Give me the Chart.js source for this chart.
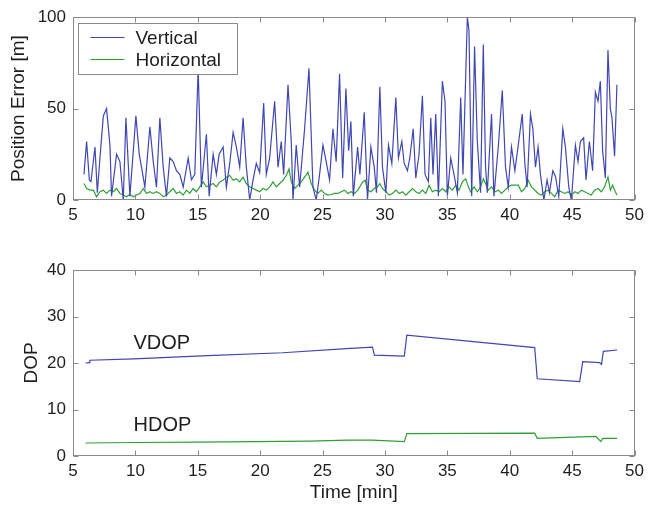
<!DOCTYPE html>
<html>
<head>
<meta charset="utf-8">
<script src="https://cdn.jsdelivr.net/npm/chart.js@4.4.1/dist/chart.umd.min.js"></script>
<style>
  body { margin: 0; background: #fff; }
  #errWrap { position: absolute; left: 0; top: 0; }
  #dopWrap { position: absolute; left: 0; top: 250px; }
</style>
</head>
<body>
<div id="errWrap"><canvas id="errChart" width="649" height="250"></canvas></div>
<div id="dopWrap"><canvas id="dopChart" width="649" height="256"></canvas></div>
<script>
// position error [m] against time [min]
const vertTime = [
  5.88, 6.09, 6.31, 6.44, 6.76, 6.95, 7.16, 7.43, 7.69, 7.96,
  8.09, 8.49, 8.76, 9.03, 9.24, 9.56, 10.04, 10.31, 10.49, 10.76,
  11.16, 11.43, 11.69, 11.96, 12.23, 12.49, 12.76, 13.03, 13.29, 13.56,
  13.83, 14.23, 14.49, 14.76, 15.03, 15.29, 15.69, 15.91, 16.23, 16.49,
  16.71, 17.03, 17.29, 17.56, 17.83, 18.09, 18.36, 18.63, 18.89, 19.16,
  19.43, 19.69, 19.96, 20.28, 20.49, 20.76, 21.16, 21.43, 21.69, 21.88,
  22.23, 22.49, 22.63, 22.89, 23.16, 23.56, 23.91, 24.23, 24.49, 24.76,
  25.03, 25.29, 25.56, 25.83, 26.09, 26.36, 26.61, 26.87, 27.09, 27.27,
  27.46, 27.81, 27.99, 28.34, 28.60, 28.87, 29.14, 29.32, 29.59, 29.80,
  30.07, 30.28, 30.55, 30.87, 31.08, 31.35, 31.54, 31.80, 31.99, 32.26,
  32.47, 32.73, 33.00, 33.21, 33.48, 33.67, 33.85, 34.07, 34.28, 34.60,
  34.81, 35.00, 35.27, 35.53, 35.80, 36.07, 36.25, 36.60, 36.73, 36.95,
  37.18, 37.40, 37.66, 37.88, 38.06, 38.20, 38.54, 38.73, 39.08, 39.40,
  39.66, 39.88, 40.14, 40.41, 40.68, 41.00, 41.21, 41.39, 41.66, 41.85,
  42.06, 42.27, 42.46, 42.73, 42.99, 43.18, 43.45, 43.66, 43.93, 44.25,
  44.46, 44.73, 44.94, 45.26, 45.47, 45.66, 45.92, 46.11, 46.38, 46.64,
  46.86, 47.07, 47.26, 47.44, 47.66, 47.87, 48.06, 48.19, 48.40, 48.59
];
const vertErr = [
  14, 32, 11, 10, 29, 4, 23, 46, 50, 30,
  2, 25, 21, 0, 45, 2, 46, 25, 18, 7,
  40, 21, 7, 45, 18, 2, 23, 21, 16, 14,
  7, 23, 11, 14, 72, 7, 36, 2, 25, 14,
  25, 29, 7, 20, 37, 29, 18, 45, 18, 0,
  11, 20, 15, 53, 14, 23, 54, 18, 32, 14,
  63, 32, 0, 30, 7, 39, 72, 7, 0, 14,
  30, 21, 11, 39, 21, 69, 12, 61, 27, 43,
  2, 29, 14, 48, 0, 29, 18, 4, 62, 18,
  4, 30, 20, 56, 23, 32, 20, 16, 23, 39,
  12, 25, 57, 14, 10, 45, 14, 47, 2, 65,
  54, 2, 23, 14, 4, 56, 14, 100, 93, 2,
  84, 32, 4, 85, 18, 4, 47, 2, 29, 60,
  18, 7, 29, 16, 30, 47, 20, 7, 47, 39,
  18, 29, 14, 0, 11, 4, 16, 13, 2, 39,
  29, 7, 0, 30, 21, 32, 34, 11, 32, 16,
  59, 54, 65, 27, 12, 82, 50, 45, 24, 63
];
const horizTime = [
  5.88, 6.09, 6.36, 6.63, 6.89, 7.16, 7.43, 7.69, 7.96, 8.23,
  8.49, 8.76, 9.03, 9.29, 9.56, 9.83, 10.09, 10.36, 10.63, 10.89,
  11.16, 11.43, 11.69, 11.96, 12.23, 12.49, 12.76, 13.03, 13.29, 13.56,
  13.83, 14.09, 14.36, 14.63, 14.89, 15.16, 15.43, 15.69, 15.96, 16.23,
  16.49, 16.76, 17.03, 17.29, 17.56, 17.83, 18.09, 18.36, 18.63, 18.89,
  19.16, 19.43, 19.69, 19.96, 20.23, 20.49, 20.76, 21.03, 21.29, 21.56,
  21.83, 22.09, 22.31, 22.49, 22.76, 23.03, 23.29, 23.56, 23.83, 24.09,
  24.36, 24.63, 24.89, 25.16, 25.43, 25.69, 25.96, 26.23, 26.49, 26.76,
  27.03, 27.29, 27.56, 27.83, 28.21, 28.42, 28.60, 28.87, 29.14, 29.40,
  29.59, 29.80, 30.07, 30.34, 30.60, 30.87, 31.14, 31.40, 31.67, 31.94,
  32.20, 32.47, 32.73, 33.00, 33.27, 33.53, 33.80, 34.07, 34.33, 34.60,
  34.87, 35.13, 35.40, 35.67, 35.93, 36.20, 36.47, 36.68, 36.87, 37.13,
  37.40, 37.66, 37.88, 38.06, 38.28, 38.54, 38.81, 39.08, 39.34, 39.61,
  39.88, 40.14, 40.41, 40.68, 40.94, 41.21, 41.47, 41.74, 42.01, 42.27,
  42.54, 42.81, 43.07, 43.34, 43.61, 43.87, 44.14, 44.41, 44.67, 44.94,
  45.21, 45.47, 45.74, 46.00, 46.27, 46.54, 46.80, 47.07, 47.34, 47.60,
  47.87, 48.06, 48.24, 48.46, 48.59
];
const horizErr = [
  9.0, 6.3, 5.4, 5.4, 1.8, 4.5, 5.4, 3.6, 5.4, 4.5,
  6.3, 3.6, 2.7, 1.8, 3.0, 1.8, 2.7, 3.6, 6.3, 3.6,
  4.5, 3.6, 4.5, 3.6, 1.8, 2.7, 4.5, 6.3, 3.6, 4.5,
  2.7, 5.4, 3.6, 6.3, 4.5, 7.2, 9.9, 7.2, 8.1, 9.0,
  7.2, 9.9, 10.8, 12.5, 13.4, 10.8, 11.6, 9.9, 12.5, 9.0,
  7.2, 6.3, 5.4, 4.5, 6.3, 5.4, 7.2, 9.9, 7.2, 9.0,
  10.8, 13.4, 17.0, 9.9, 6.3, 8.1, 9.9, 12.5, 15.2, 9.0,
  5.4, 3.6, 5.4, 3.6, 2.7, 3.0, 3.6, 3.6, 4.5, 5.4,
  3.6, 4.5, 3.6, 5.4, 9.9, 10.8, 5.4, 4.5, 6.3, 7.2,
  9.0, 6.3, 4.5, 2.7, 3.6, 5.4, 3.6, 4.5, 2.7, 4.5,
  6.3, 4.5, 3.6, 5.4, 3.6, 8.1, 4.5, 5.4, 4.5, 6.3,
  4.5, 7.2, 5.4, 8.1, 5.4, 9.9, 11.6, 7.2, 4.5, 7.2,
  4.5, 7.2, 11.6, 9.0, 5.4, 7.2, 4.5, 5.4, 3.6, 5.4,
  7.2, 8.1, 8.1, 8.1, 4.5, 6.3, 10.8, 7.2, 5.4, 3.6,
  2.7, 4.5, 5.4, 3.6, 1.8, 5.4, 4.5, 3.6, 4.5, 2.7,
  4.5, 3.6, 5.4, 4.5, 3.6, 2.7, 5.4, 6.3, 4.5, 7.2,
  12.5, 5.4, 8.1, 4.5, 2.7
];

// dilution of precision
const vdopTime = [6.0, 6.3, 6.35, 9.9, 15.8, 21.8, 26.9, 29.0, 29.15, 31.55, 31.75, 42.0, 42.2, 45.6, 45.85, 47.2, 47.35, 47.5, 48.6];
const vdop     = [20.0, 20.1, 20.6, 20.9, 21.6, 22.2, 23.1, 23.4, 21.7, 21.5, 26.0, 23.3, 16.6, 16.0, 20.3, 20.1, 19.7, 22.5, 22.8];
const hdopTime = [6.0, 9.9, 15.0, 24.0, 27.0, 29.0, 31.55, 31.75, 42.0, 42.2, 46.9, 47.3, 47.45, 48.6];
const hdop     = [2.8, 2.9, 3.0, 3.2, 3.4, 3.4, 3.1, 4.8, 4.9, 3.8, 4.2, 3.1, 3.8, 3.8];

const timeTicks = [5, 10, 15, 20, 25, 30, 35, 40, 45, 50];
const errTicks = [0, 50, 100];
const dopTicks = [0, 10, 20, 30, 40];

const seriesNames = ['Vertical', 'Horizontal'];
const dopNames = ['VDOP', 'HDOP'];

const blue = '#3f47b3';
const green = '#2f9f35';
const frameColor = '#8a8a8a';
const textColor = '#1e1e1e';
const fontFamily = "'Liberation Sans', Arial, Helvetica, sans-serif";

function pairs(xs, ys) {
  return xs.map((x, i) => ({x: x, y: ys[i]}));
}

// boxed frame with inward ticks on all four sides
const framePlugin = {
  id: 'frame',
  afterDatasetsDraw(chart) {
    const {ctx, chartArea: a, scales} = chart;
    const l = Math.round(a.left) + 0.5, r = Math.round(a.right) - 0.5;
    const t = Math.round(a.top) + 0.5, b = Math.round(a.bottom) - 0.5;
    ctx.save();
    ctx.strokeStyle = frameColor;
    ctx.lineWidth = 1;
    ctx.strokeRect(l, t, r - l, b - t);
    ctx.beginPath();
    scales.x.ticks.forEach(tk => {
      const px = Math.round(scales.x.getPixelForValue(tk.value)) + 0.5;
      ctx.moveTo(px, b); ctx.lineTo(px, b - 5);
      ctx.moveTo(px, t); ctx.lineTo(px, t + 5);
    });
    scales.y.ticks.forEach(tk => {
      const py = Math.round(scales.y.getPixelForValue(tk.value)) + 0.5;
      ctx.moveTo(l, py); ctx.lineTo(l + 5, py);
      ctx.moveTo(r, py); ctx.lineTo(r - 5, py);
    });
    ctx.stroke();
    ctx.restore();
  }
};

// legend drawn inside the plot, top-left corner
const insideLegend = {
  id: 'insideLegend',
  afterDraw(chart) {
    const {ctx, chartArea: a} = chart;
    const x0 = Math.round(a.left) + 5.5, y0 = Math.round(a.top) + 6.5;
    const w = 159, h = 51;
    ctx.save();
    ctx.fillStyle = '#fff';
    ctx.fillRect(x0, y0, w, h);
    ctx.strokeStyle = frameColor;
    ctx.lineWidth = 1;
    ctx.strokeRect(x0, y0, w, h);
    ctx.font = '19px ' + fontFamily;
    ctx.textBaseline = 'middle';
    chart.data.datasets.forEach((ds, i) => {
      const ly = y0 + 14 + i * 22;
      ctx.strokeStyle = ds.borderColor;
      ctx.lineWidth = 1.2;
      ctx.beginPath();
      ctx.moveTo(x0 + 12, ly);
      ctx.lineTo(x0 + 46, ly);
      ctx.stroke();
      ctx.fillStyle = textColor;
      ctx.fillText(ds.label, x0 + 57, ly + 1);
    });
    ctx.restore();
  }
};

// series names written next to each DOP curve
const curveNames = {
  id: 'curveNames',
  afterDraw(chart) {
    const {ctx, scales: {x, y}} = chart;
    ctx.save();
    ctx.font = '20px ' + fontFamily;
    ctx.fillStyle = textColor;
    ctx.textBaseline = 'middle';
    ctx.fillText(dopNames[0], x.getPixelForValue(9.85), y.getPixelForValue(24.2));
    ctx.fillText(dopNames[1], x.getPixelForValue(9.85), y.getPixelForValue(6.5));
    ctx.restore();
  }
};

function axes(yTicks, yMax, yTitle, titlePad, xTitle) {
  const tickFont = {family: fontFamily, size: 17};
  return {
    x: {
      type: 'linear', min: 5, max: 50,
      afterBuildTicks: s => { s.ticks = timeTicks.map(v => ({value: v})); },
      afterFit: s => { s.height = 50; },
      grid: {display: false, drawTicks: false},
      border: {display: false},
      ticks: {font: tickFont, color: textColor, padding: 5, maxRotation: 0},
      title: {display: !!xTitle, text: xTitle, font: {family: fontFamily, size: 19},
              color: textColor, padding: {top: 0, bottom: 2}}
    },
    y: {
      min: 0, max: yMax,
      afterBuildTicks: s => { s.ticks = yTicks.map(v => ({value: v})); },
      afterFit: s => { s.width = 73; },
      grid: {display: false, drawTicks: false},
      border: {display: false},
      ticks: {font: tickFont, color: textColor, padding: 7},
      title: {display: true, text: yTitle, font: {family: fontFamily, size: 19},
              color: textColor, padding: {top: titlePad, bottom: 0}}
    }
  };
}

const common = {
  responsive: false,
  animation: false,
  devicePixelRatio: 1,
  elements: {point: {radius: 0}, line: {tension: 0, borderWidth: 1.2}},
  plugins: {legend: {display: false}, tooltip: {enabled: false}}
};

new Chart(document.getElementById('errChart'), {
  type: 'line',
  data: {
    datasets: [
      {label: seriesNames[0], data: pairs(vertTime, vertErr), borderColor: blue},
      {label: seriesNames[1], data: pairs(horizTime, horizErr), borderColor: green}
    ]
  },
  options: Object.assign({}, common, {
    layout: {padding: {left: 0, right: 13, top: 14, bottom: 0}},
    scales: axes(errTicks, 100, 'Position Error [m]', 7, '')
  }),
  plugins: [framePlugin, insideLegend]
});

new Chart(document.getElementById('dopChart'), {
  type: 'line',
  data: {
    datasets: [
      {label: dopNames[0], data: pairs(vdopTime, vdop), borderColor: blue},
      {label: dopNames[1], data: pairs(hdopTime, hdop), borderColor: green}
    ]
  },
  options: Object.assign({}, common, {
    layout: {padding: {left: 0, right: 13, top: 20, bottom: 0}},
    scales: axes(dopTicks, 40, 'DOP', 20, 'Time [min]')
  }),
  plugins: [framePlugin, curveNames]
});
</script>
</body>
</html>
